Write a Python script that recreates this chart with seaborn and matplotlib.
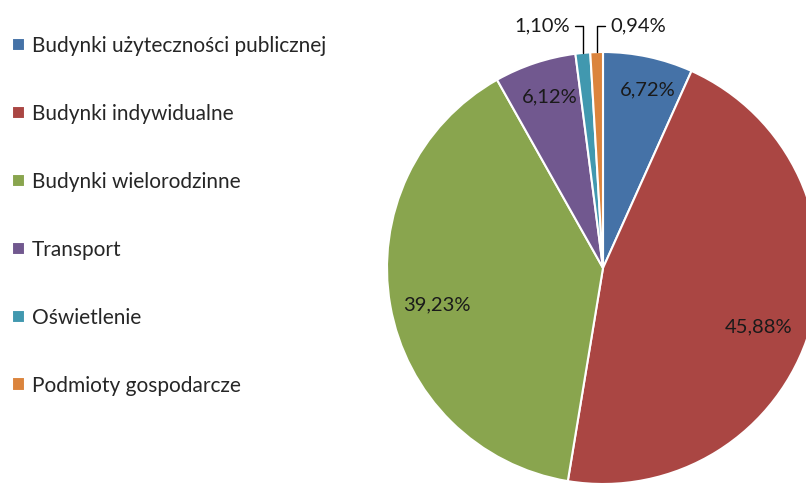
import numpy as np
import matplotlib
matplotlib.use("Agg")
import matplotlib.pyplot as plt
import seaborn as sns

# Data
categories = ["Budynki użyteczności publicznej", "Budynki indywidualne",
              "Budynki wielorodzinne", "Transport", "Oświetlenie",
              "Podmioty gospodarcze"]
shares = [6.72, 45.88, 39.23, 6.12, 1.10, 0.94]
labels = ["6,72%", "45,88%", "39,23%", "6,12%", "1,10%", "0,94%"]
colors = ["#4572A7", "#AA4643", "#89A54E", "#71588F", "#4198AF", "#DB843D"]

sns.set_theme(style="white")
plt.rcParams["font.family"] = ["Lato", "DejaVu Sans"]
palette = sns.color_palette(colors)

W, H = 806, 488
fig = plt.figure(figsize=(W / 100, H / 100), dpi=100)
ax = fig.add_axes([0, 0, 1, 1])

cx, cy, R = 603, 220, 216
wedges, _ = ax.pie(shares, colors=palette, startangle=90, counterclock=False,
                   center=(cx, cy), radius=R,
                   wedgeprops=dict(edgecolor="white", linewidth=1.5))

ax.set_xlim(0, W)
ax.set_ylim(0, H)
ax.set_aspect("equal")
ax.axis("off")

# percentage labels (distance as fraction of radius, angle tweak in degrees)
place = [(0.85, -2), (0.77, -4), (0.79, 2.5), (0.83, -1)]
for w, lab, (d, da) in zip(wedges[:4], labels[:4], place):
    ang = np.deg2rad((w.theta1 + w.theta2) / 2 + da)
    ax.text(cx + d * R * np.cos(ang), cy + d * R * np.sin(ang), lab,
            ha="center", va="center", fontsize=14.5, color="#1a1a1a")

# small slices with leader lines
for w, lab, tx, ha in [(wedges[4], labels[4], 570, "right"),
                       (wedges[5], labels[5], 610, "left")]:
    ang = np.deg2rad((w.theta1 + w.theta2) / 2)
    px, py = cx + R * np.cos(ang), cy + R * np.sin(ang)
    ax.annotate(lab, xy=(px, py), xytext=(tx, 462), ha=ha, va="center",
                fontsize=14.5, color="#1a1a1a",
                arrowprops=dict(arrowstyle="-", color="black", lw=1,
                                shrinkA=1, shrinkB=0,
                                connectionstyle="angle,angleA=0,angleB=90,rad=0"))

ax.legend(wedges, categories, loc="upper left", bbox_to_anchor=(12, 452),
          bbox_transform=ax.transData, frameon=False, fontsize=15,
          handlelength=0.62, handleheight=0.62, handletextpad=0.35,
          labelspacing=2.3, borderpad=0, borderaxespad=0)

fig.savefig("out.png", dpi=100)
